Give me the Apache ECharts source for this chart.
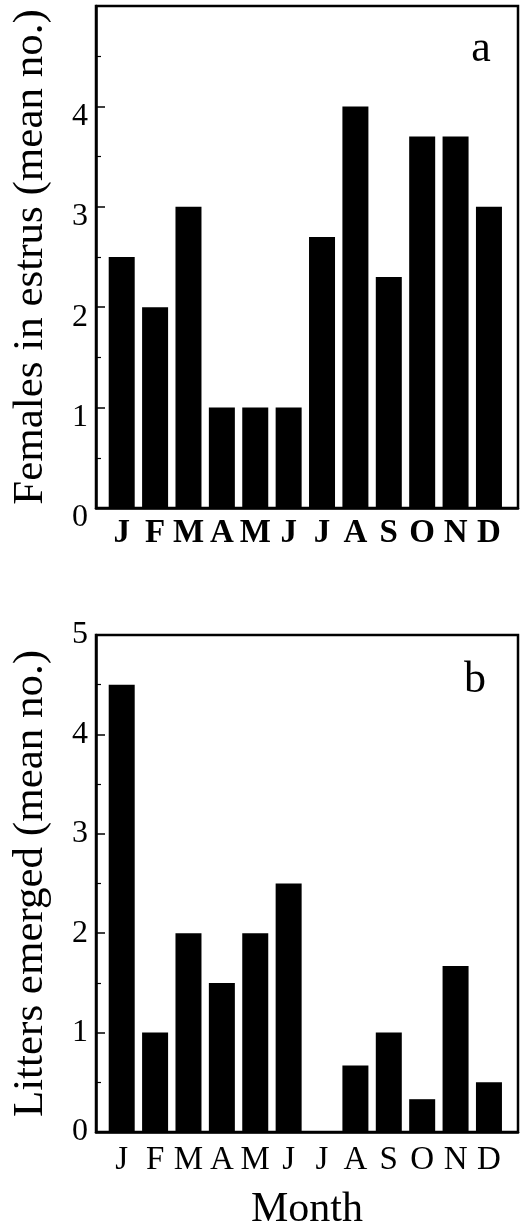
<!DOCTYPE html>
<html>
<head>
<meta charset="utf-8">
<script src="https://cdn.jsdelivr.net/npm/echarts@6/dist/echarts.min.js"></script>
<style>
  html, body { margin: 0; padding: 0; background: #fff; }
  #chart { width: 526px; height: 1232px; }
</style>
</head>
<body>
<div id="chart"></div>
<script>
// month initials along the bottom of both panels
var months = ['J', 'F', 'M', 'A', 'M', 'J', 'J', 'A', 'S', 'O', 'N', 'D'];
// panel a: females in estrus (mean no.)
var estrus = [2.5, 2.0, 3.0, 1.0, 1.0, 1.0, 2.7, 4.0, 2.3, 3.7, 3.7, 3.0];
// panel b: litters emerged (mean no.)
var litters = [4.5, 1.0, 2.0, 1.5, 2.0, 2.5, 0, 0.67, 1.0, 0.33, 1.67, 0.5];
var yTicks = [0, 1, 2, 3, 4, 5];

var serif = 'Liberation Serif, Times New Roman, serif';
var chart = echarts.init(document.getElementById('chart'));

function barData(vals) {
  return vals.map(function (v, i) { return [i, v]; });
}

function xAx(grid, bold, name) {
  return {
    type: 'value', gridIndex: grid, min: -0.77, max: 11.87,
    axisLine: { show: true, onZero: false, lineStyle: { color: '#000', width: 2.5 } },
    axisTick: { show: false },
    splitLine: { show: false },
    axisLabel: {
      customValues: months.map(function (m, i) { return i; }),
      formatter: function (v) { return months[Math.round(v)]; },
      color: '#000', fontFamily: serif, fontSize: 33,
      fontWeight: bold ? 'bold' : 'normal',
      margin: bold ? 9 : 12
    },
    name: name || '', nameLocation: 'middle', nameGap: 57,
    nameTextStyle: { color: '#000', fontFamily: serif, fontSize: 42 }
  };
}

function yAx(grid, name, showTop, shifted) {
  var lab = {
    color: '#000', fontFamily: serif, fontSize: 32, margin: 8,
    formatter: function (v) { return (v === 5 && !showTop) ? '' : String(v); }
  };
  if (shifted) {
    // panel a prints its numbers a little below the ticks
    lab.verticalAlign = 'top';
    lab.lineHeight = 20;
  }
  return {
    type: 'value', gridIndex: grid, min: yTicks[0], max: yTicks[yTicks.length - 1], interval: 1,
    axisLine: { show: true, onZero: false, lineStyle: { color: '#000', width: 2.5 } },
    axisTick: { show: true, inside: true, length: 9, lineStyle: { color: '#000', width: 1.5 } },
    minorTick: { show: true, splitNumber: 2, length: 5, lineStyle: { color: '#000', width: 1.2 } },
    splitLine: { show: false },
    axisLabel: lab,
    name: name, nameLocation: 'middle', nameGap: 44,
    nameTextStyle: { color: '#000', fontFamily: serif, fontSize: 43 }
  };
}

var option = {
  backgroundColor: '#fff',
  animation: false,
  grid: [
    { left: 96, top: 6, width: 422, height: 502, show: true, borderColor: '#000', borderWidth: 2.5, backgroundColor: 'transparent' },
    { left: 96, top: 635, width: 422, height: 504, show: true, borderColor: '#000', borderWidth: 2.5, backgroundColor: 'transparent' }
  ],
  xAxis: [xAx(0, true), xAx(1, false, 'Month')],
  yAxis: [
    yAx(0, 'Females in estrus (mean no.)', false, true),
    yAx(1, 'Litters emerged (mean no.)', true, false)
  ],
  series: [
    { type: 'bar', xAxisIndex: 0, yAxisIndex: 0, barWidth: 26, data: barData(estrus), itemStyle: { color: '#000' } },
    { type: 'bar', xAxisIndex: 1, yAxisIndex: 1, barWidth: 26, data: barData(litters), itemStyle: { color: '#000' } }
  ],
  graphic: [
    { type: 'text', x: 481, y: 49, style: { text: 'a', fill: '#000', font: '44px ' + serif, textAlign: 'center', textVerticalAlign: 'middle' } },
    { type: 'text', x: 475, y: 680, style: { text: 'b', fill: '#000', font: '44px ' + serif, textAlign: 'center', textVerticalAlign: 'middle' } }
  ]
};
chart.setOption(option);
</script>
</body>
</html>
